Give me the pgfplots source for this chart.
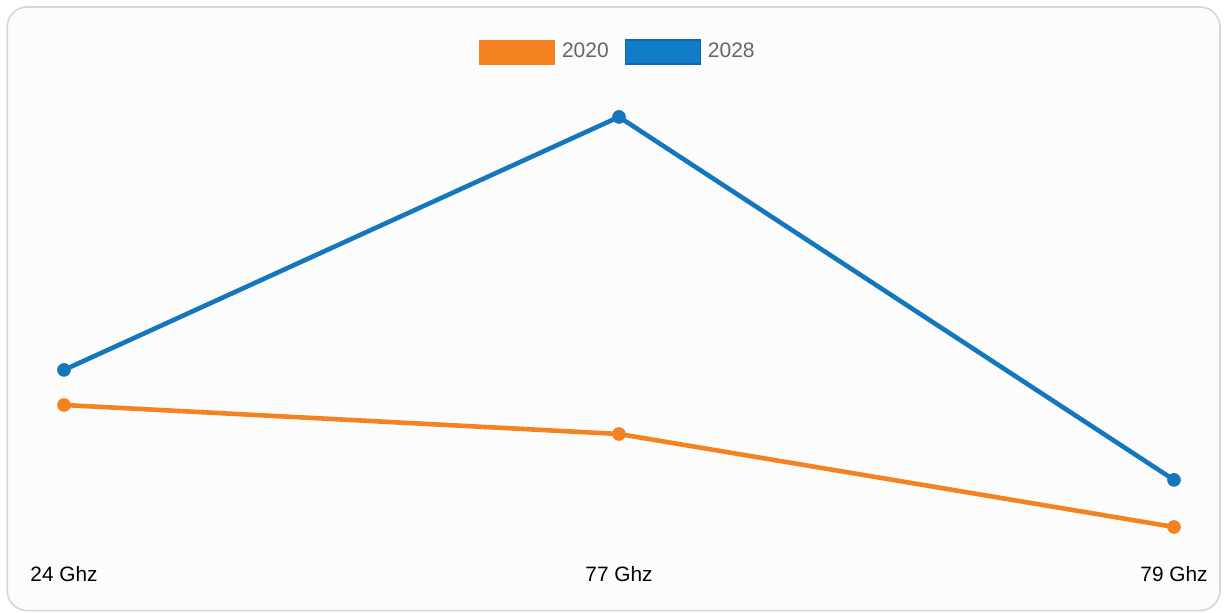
\documentclass[border=0pt]{standalone}
\usepackage{pgfplots}
\pgfplotsset{compat=1.18}
\usepackage{fontspec}
\setmainfont{Liberation Sans}
\definecolor{cOrange}{RGB}{245,130,32}
\definecolor{cBlue}{RGB}{20,118,188}
\definecolor{cBlueLeg}{RGB}{15,125,199}
\definecolor{cBlueEdge}{RGB}{22,100,168}
\definecolor{cBorder}{RGB}{214,214,214}
\definecolor{cBg}{RGB}{252,252,252}
\definecolor{cLegText}{RGB}{102,102,102}
\begin{document}
\begin{tikzpicture}
\useasboundingbox (0,0) rectangle (613.5pt,306.5pt);
\draw[draw=cBorder, line width=0.8pt, fill=cBg, rounded corners=10pt] (3.6pt,1.2pt) rectangle (610pt,303pt);
\begin{axis}[
  scale only axis,
  width=613.5pt, height=306.5pt,
  xmin=-0.1153, xmax=2.0955,
  ymin=16.1, ymax=614.1,
  axis x line*=bottom,
  axis y line=none,
  x axis line style={draw=none},
  major tick length=0pt,
  xtick={0,1,2},
  xticklabels={24 Ghz,77 Ghz,79 Ghz},
  xticklabel style={anchor=base, yshift=15.5pt, font=\fontsize{10.4pt}{12pt}\selectfont, text=black},
  ytick=\empty,
  legend columns=2,
  legend style={draw=none, fill=none, at={(0.5045,0.915)}, anchor=center,
    font=\fontsize{10.5pt}{12pt}\selectfont, text=cLegText,
    /tikz/every odd column/.append style={column sep=1.5pt},
    /tikz/every even column/.append style={column sep=6pt}},
  legend cell align=left,
]
\addplot[cOrange, line width=2.3pt, mark=*, mark size=3.2pt, mark options={fill=cOrange, draw=cOrange, line width=0.4pt},
  legend image code/.code={\draw[fill=cOrange, draw=cOrange, line width=0.3pt] (0pt,-6pt) rectangle (37.5pt,6pt);}]
  coordinates {(0,219.0) (1,190.7) (2,100.0)};
\addlegendentry{2020}
\addplot[cBlue, line width=2.3pt, mark=*, mark size=3.2pt, mark options={fill=cBlue, draw=cBlue, line width=0.4pt},
  legend image code/.code={\draw[fill=cBlueLeg, draw=cBlueEdge, line width=0.6pt] (0pt,-6pt) rectangle (37.5pt,6pt);}]
  coordinates {(0,253.2) (1,500.0) (2,145.9)};
\addlegendentry{2028}
\end{axis}
\end{tikzpicture}
\end{document}
